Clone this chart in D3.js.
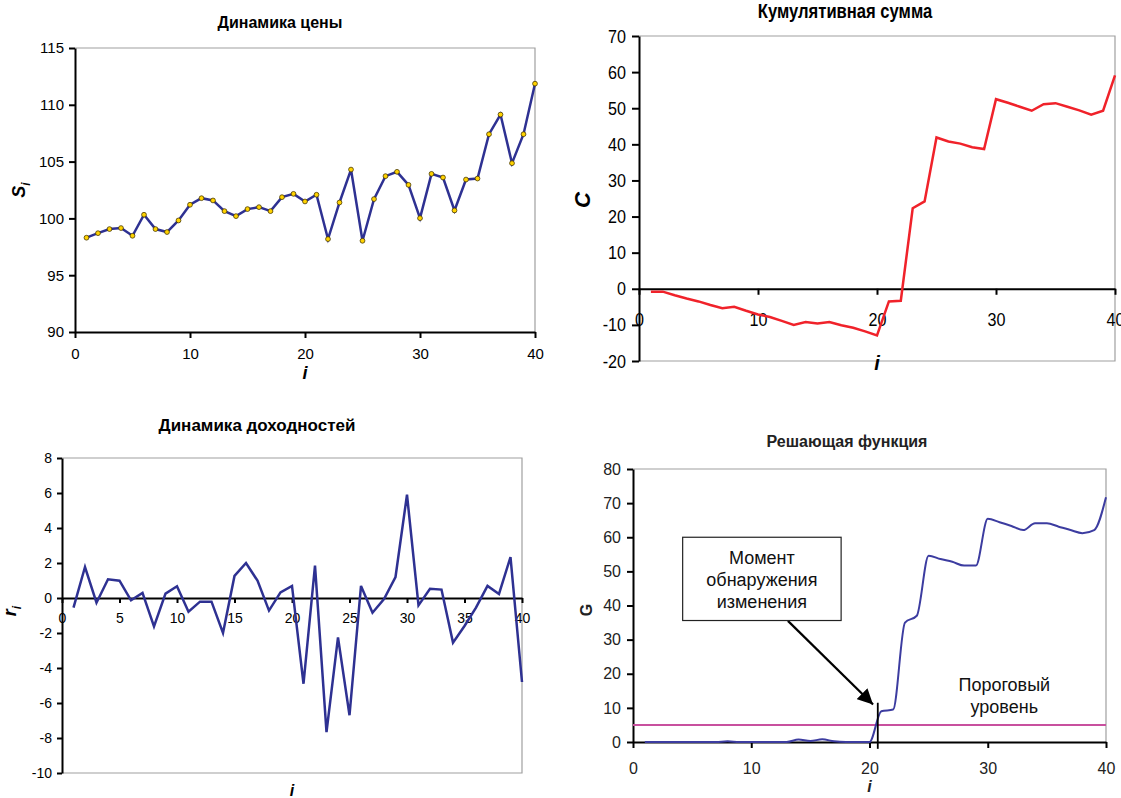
<!DOCTYPE html>
<html>
<head>
<meta charset="utf-8">
<script src="https://cdn.jsdelivr.net/npm/d3@7"></script>
<style>
  body { margin: 0; background: #fff; }
  svg { display: block; font-family: "Liberation Sans", Arial, sans-serif; }
</style>
</head>
<body>
<div id="chart"></div>
<script>
const idx = d3.range(1, 41);

// цена
const priceS = [98.3, 98.7, 99.06, 99.15, 98.47, 100.32, 99.06, 98.8, 99.82, 101.2,
  101.78, 101.58, 100.64, 100.2, 100.82, 100.99, 100.64, 101.87, 102.16, 101.49,
  102.08, 98.18, 101.4, 104.3, 98.03, 101.7, 103.72, 104.1, 102.95, 100.02,
  103.92, 103.6, 100.7, 103.42, 103.51, 107.41, 109.14, 104.86, 107.41, 111.86];

// кумулятивная сумма
const cumC = [-0.8, -0.8, -1.8, -2.7, -3.5, -4.5, -5.4, -5.0, -6.1, -7.1,
  -7.8, -8.9, -10.0, -9.2, -9.6, -9.2, -10.1, -10.8, -11.8, -12.9,
  -3.5, -3.3, 22.3, 24.2, 41.9, 40.8, 40.2, 39.2, 38.7, 52.5,
  51.5, 50.4, 49.3, 51.1, 51.4, 50.4, 49.4, 48.2, 49.3, 59.1];

// доходности
const retR = [-0.55, 1.77, -0.27, 1.07, 0.99, -0.13, 0.29, -1.62, 0.25, 0.67,
  -0.78, -0.21, -0.21, -2.0, 1.26, 2.0, 0.99, -0.72, 0.32, 0.69,
  -4.9, 1.85, -7.66, -2.25, -6.7, 0.69, -0.84, -0.06, 1.2, 5.9,
  -0.42, 0.53, 0.48, -2.55, -1.6, -0.55, 0.69, 0.23, 2.34, -4.8];

// решающая функция
const decG = [0, 0, 0, 0, 0, 0, 0, 0.2, 0, 0,
  0, 0, 0, 0.7, 0.3, 0.8, 0.2, 0, 0, 0,
  9.0, 9.5, 35.0, 37.0, 54.6, 53.6, 52.8, 51.7, 51.7, 65.4,
  64.4, 63.3, 62.1, 64.1, 64.1, 63.1, 62.1, 61.2, 62.1, 71.7];

const threshold = 5;
const alarmAt = 20.7;

const ticks1X = [0, 10, 20, 30, 40];
const ticks1Y = [90, 95, 100, 105, 110, 115];
const ticks2Y = [-20, -10, 0, 10, 20, 30, 40, 50, 60, 70];
const ticks3X = [0, 5, 10, 15, 20, 25, 30, 35, 40];
const ticks3Y = [-10, -8, -6, -4, -2, 0, 2, 4, 6, 8];
const ticks4Y = [0, 10, 20, 30, 40, 50, 60, 70, 80];

const fmt = d => String(d); // plain hyphen minus, like Excel

const svg = d3.select("#chart").append("svg")
  .attr("width", 1121)
  .attr("height", 798);

// narrow look (Arial Narrow is not available)
const condense = (sel, k) => {
  sel.each(function () {
    const w = this.getComputedTextLength();
    d3.select(this).attr("textLength", w * k).attr("lengthAdjust", "spacingAndGlyphs");
  });
};

const styleAxis = (g, size, color) => {
  g.select(".domain").attr("stroke", "#000").attr("stroke-width", 2);
  g.selectAll(".tick line").attr("stroke", "#000").attr("stroke-width", 2);
  g.selectAll(".tick text")
    .attr("fill", color || "#000")
    .style("font-size", size + "px");
  g.attr("font-family", null).attr("font-size", null);
};

// gray frame (top + right, optional bottom)
const frame = (x, y, withBottom) => {
  const [x0, x1] = x.range();
  const [yb, yt] = y.range();
  let d = `M${x0},${yt}H${x1}V${yb}`;
  if (withBottom) d += `H${x0}`;
  svg.append("path").attr("d", d).attr("fill", "none")
    .attr("stroke", "#a0a0a0").attr("stroke-width", 1.2);
};

const axisTitle = (txt, px, py, size, rot) => {
  const t = svg.append("text")
    .attr("x", px).attr("y", py)
    .attr("text-anchor", "middle")
    .attr("font-weight", "bold")
    .attr("font-style", "italic")
    .style("font-size", size + "px")
    .text(txt);
  if (rot) t.attr("transform", `rotate(-90,${px},${py})`);
  return t;
};

// ---------- 1. Динамика цены ----------
{
  const x = d3.scaleLinear().domain([0, 40]).range([75, 535]);
  const y = d3.scaleLinear().domain([90, 115]).range([332, 48]);
  frame(x, y, false);

  svg.append("g").attr("transform", `translate(0,${y(90)})`)
    .call(d3.axisBottom(x).tickValues(ticks1X).tickFormat(fmt).tickSize(6).tickSizeOuter(0).tickPadding(10))
    .call(g => styleAxis(g, 15));
  svg.append("g").attr("transform", `translate(${x(0)},0)`)
    .call(d3.axisLeft(y).tickValues(ticks1Y).tickFormat(fmt).tickSize(6).tickSizeOuter(0).tickPadding(5))
    .call(g => styleAxis(g, 15));

  const line = d3.line().x((d, i) => x(idx[i])).y(d => y(d));
  svg.append("path").datum(priceS).attr("d", line)
    .attr("fill", "none").attr("stroke", "#2e3192").attr("stroke-width", 2.5);
  svg.append("g").selectAll("circle").data(priceS).join("circle")
    .attr("cx", (d, i) => x(idx[i])).attr("cy", d => y(d)).attr("r", 2.4)
    .attr("fill", "#ffd200").attr("stroke", "#4a3a00").attr("stroke-width", 0.8);

  svg.append("text").attr("x", 280).attr("y", 28).attr("text-anchor", "middle")
    .attr("font-weight", "bold").style("font-size", "16px").text("Динамика цены");
  axisTitle("i", x(20), 379, 18);
  const s = axisTitle("S", 25, 190, 18, true);
  s.append("tspan").attr("dy", 5).style("font-size", "12px").text("i");
}

// ---------- 2. Кумулятивная сумма ----------
{
  const x = d3.scaleLinear().domain([0, 40]).range([639, 1115]);
  const y = d3.scaleLinear().domain([-20, 70]).range([361, 36]);
  frame(x, y, true);

  svg.append("g").attr("transform", `translate(0,${y(0)})`)
    .call(d3.axisBottom(x).tickValues(ticks1X).tickFormat(fmt).tickSize(6).tickSizeOuter(0).tickPadding(18))
    .call(g => styleAxis(g, 19))
    .call(g => condense(g.selectAll(".tick text"), 0.85));
  svg.append("g").attr("transform", `translate(${x(0)},0)`)
    .call(d3.axisLeft(y).tickValues(ticks2Y).tickFormat(fmt).tickSize(7).tickSizeOuter(0).tickPadding(6))
    .call(g => styleAxis(g, 19))
    .call(g => condense(g.selectAll(".tick text"), 0.85));

  const line = d3.line().x((d, i) => x(idx[i])).y(d => y(d));
  svg.append("path").datum(cumC).attr("d", line)
    .attr("fill", "none").attr("stroke", "#f0222a").attr("stroke-width", 2.5);

  svg.append("text").attr("x", 845).attr("y", 18)
    .attr("text-anchor", "middle").attr("font-weight", "bold")
    .style("font-size", "20px").text("Кумулятивная сумма")
    .call(t => condense(t, 0.83));
  axisTitle("i", x(20), 370, 20);
  axisTitle("C", 590, 200, 22, true);
}

// ---------- 3. Динамика доходностей ----------
{
  const x = d3.scaleLinear().domain([0, 40]).range([62, 522]);
  const y = d3.scaleLinear().domain([-10, 8]).range([773, 458]);
  frame(x, y, true);

  svg.append("g").attr("transform", `translate(0,${y(0)})`)
    .call(d3.axisBottom(x).tickValues(ticks3X).tickFormat(fmt).tickSize(5).tickSizeOuter(0).tickPadding(10))
    .call(g => styleAxis(g, 14));
  svg.append("g").attr("transform", `translate(${x(0)},0)`)
    .call(d3.axisLeft(y).tickValues(ticks3Y).tickFormat(fmt).tickSize(5).tickSizeOuter(0).tickPadding(5))
    .call(g => styleAxis(g, 14));

  const line = d3.line().x((d, i) => x(idx[i])).y(d => y(d));
  svg.append("path").datum(retR).attr("d", line)
    .attr("fill", "none").attr("stroke", "#2e3192").attr("stroke-width", 2.5);

  svg.append("text").attr("x", 257).attr("y", 431).attr("text-anchor", "middle")
    .attr("font-weight", "bold").style("font-size", "17px").text("Динамика доходностей");
  axisTitle("i", x(20), 796, 16);
  const r = axisTitle("r", 16, 611, 18, true);
  r.append("tspan").attr("dy", 5).style("font-size", "12px").text("i");
}

// ---------- 4. Решающая функция ----------
{
  const x = d3.scaleLinear().domain([0, 40]).range([633, 1106]);
  const y = d3.scaleLinear().domain([0, 80]).range([742, 469]);
  frame(x, y, false);

  svg.append("g").attr("transform", `translate(0,${y(0)})`)
    .call(d3.axisBottom(x).tickValues(ticks1X).tickFormat(fmt).tickSize(6).tickSizeOuter(0).tickPadding(15))
    .call(g => styleAxis(g, 16, "#222"));
  svg.append("g").attr("transform", `translate(${x(0)},0)`)
    .call(d3.axisLeft(y).tickValues(ticks4Y).tickFormat(fmt).tickSize(6).tickSizeOuter(0).tickPadding(6))
    .call(g => styleAxis(g, 16, "#222"));

  svg.append("line")
    .attr("x1", x(0)).attr("x2", x(40)).attr("y1", y(threshold)).attr("y2", y(threshold))
    .attr("stroke", "#c8509e").attr("stroke-width", 2);

  const line = d3.line().x((d, i) => x(idx[i])).y(d => y(d)).curve(d3.curveMonotoneX);
  svg.append("path").datum(decG).attr("d", line)
    .attr("fill", "none").attr("stroke", "#3c3ca0").attr("stroke-width", 2);

  // момент обнаружения
  svg.append("line")
    .attr("x1", x(alarmAt)).attr("x2", x(alarmAt)).attr("y1", y(-2)).attr("y2", y(11.5))
    .attr("stroke", "#000").attr("stroke-width", 1.8);

  svg.append("defs").append("marker")
    .attr("id", "arrow").attr("viewBox", "0 0 10 10").attr("refX", 10).attr("refY", 5)
    .attr("markerWidth", 7).attr("markerHeight", 7).attr("orient", "auto")
    .append("path").attr("d", "M0,0L10,5L0,10z").attr("fill", "#000");

  svg.append("line")
    .attr("x1", x(13.1)).attr("y1", y(35.5)).attr("x2", x(20.3)).attr("y2", y(11))
    .attr("stroke", "#000").attr("stroke-width", 2.2).attr("marker-end", "url(#arrow)");

  svg.append("rect")
    .attr("x", x(4.2)).attr("y", y(60)).attr("width", x(17.6) - x(4.2)).attr("height", y(35.6) - y(60))
    .attr("fill", "#fff").attr("stroke", "#222").attr("stroke-width", 1.2);

  const note = ["Момент", "обнаружения", "изменения"];
  svg.append("g").selectAll("text").data(note).join("text")
    .attr("x", x(10.9)).attr("y", (d, i) => 564 + i * 22)
    .attr("text-anchor", "middle").attr("fill", "#111").style("font-size", "18px").text(d => d);

  const lvl = ["Пороговый", "уровень"];
  svg.append("g").selectAll("text").data(lvl).join("text")
    .attr("x", x(31.4)).attr("y", (d, i) => 691 + i * 22)
    .attr("text-anchor", "middle").attr("fill", "#111").style("font-size", "18px").text(d => d);

  svg.append("text").attr("x", 847).attr("y", 447).attr("text-anchor", "middle")
    .attr("font-weight", "bold").attr("fill", "#222").style("font-size", "16px").text("Решающая функция");
  axisTitle("i", x(20), 792, 16).attr("fill", "#222");
  axisTitle("G", 592, 610, 16, true).attr("font-style", "normal").attr("fill", "#222");
}
</script>
</body>
</html>
